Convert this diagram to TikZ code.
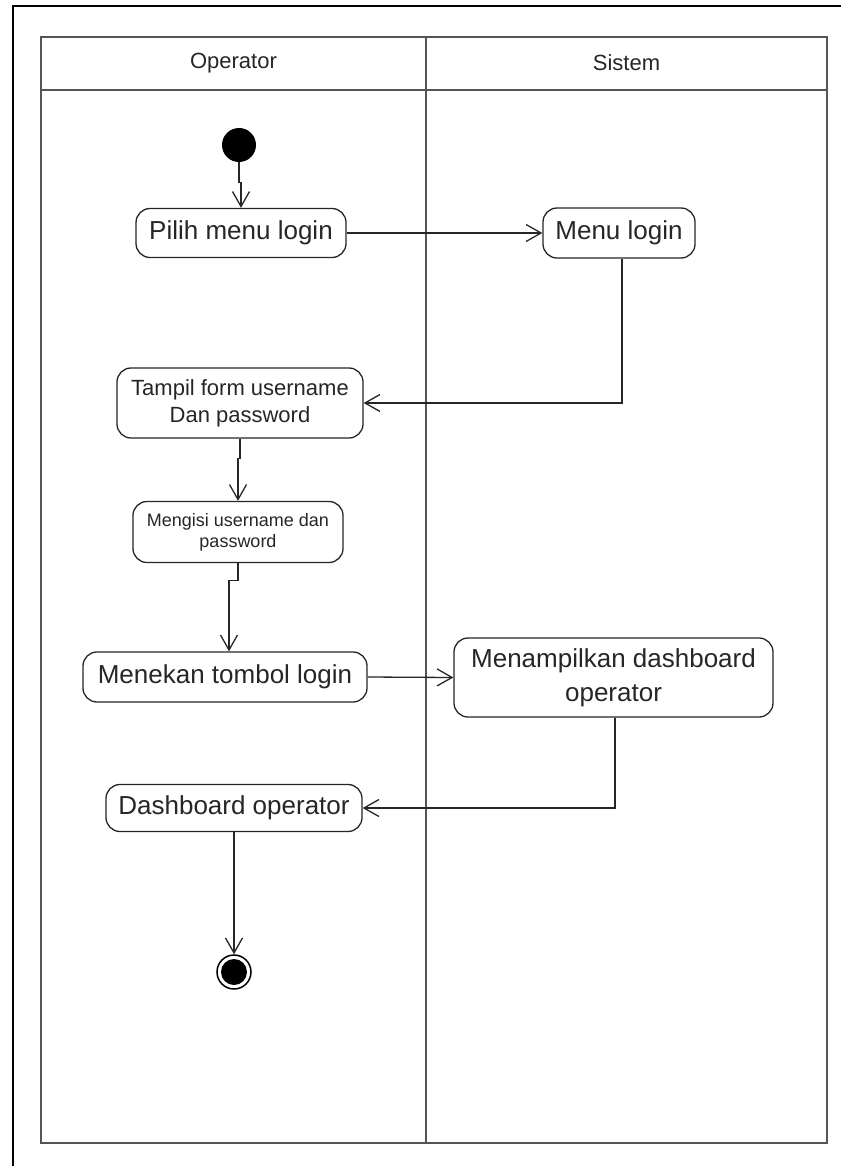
\documentclass[tikz,border=0pt]{standalone}
\usepackage{fontspec}
\setmainfont{Liberation Sans}
\usetikzlibrary{arrows.meta}
\definecolor{lane}{HTML}{555555}
\definecolor{ink}{HTML}{262626}
\begin{document}
\begin{tikzpicture}[x=1pt,y=-1pt,
  act/.style={draw=ink, line width=1.3pt, rounded corners=14pt, align=center,
    inner sep=0pt, text=ink, font=\fontsize{26}{30}\selectfont},
  flow/.style={draw=ink, line width=1.3pt,
    -{Straight Barb[length=15pt,width=17pt,line width=1.3pt]}},
  lanehead/.style={font=\fontsize{22}{26}\selectfont, text=ink},
  laneline/.style={draw=lane, line width=1.8pt}]
\useasboundingbox (0,0) rectangle (841,1166);
% page frame
\draw[line width=2pt] (13,1166) -- (13,6) -- (841,6);
% swimlanes
\draw[laneline] (41,37) rectangle (827,1143);
\draw[laneline] (41,90) -- (827,90);
\draw[laneline] (426,37) -- (426,1143);
\node[lanehead] (hop) at (233.5,63) {Operator};
\node[lanehead] (hsys) at (626.5,63) {Sistem};
% activities
\node[circle, fill=black, minimum size=34pt, inner sep=0pt] (start) at (239,145) {};
\node[act, minimum width=210pt, minimum height=49pt] (pilih) at (241,233) {Pilih menu login};
\node[act, minimum width=152pt, minimum height=50pt] (menu) at (619,233) {Menu login};
\node[act, font=\fontsize{22}{27}\selectfont, minimum width=246pt, minimum height=70pt] (tampil) at (240,403) {Tampil form username\\Dan password};
\node[act, font=\fontsize{18}{21}\selectfont, minimum width=210pt, minimum height=61pt] (mengisi) at (238,532) {Mengisi username dan\\password};
\node[act, minimum width=284pt, minimum height=50pt] (menekan) at (225,677) {Menekan tombol login};
\node[act, font=\fontsize{26}{34}\selectfont, minimum width=319pt, minimum height=79pt] (tampilkan) at (613.5,677.5) {Menampilkan dashboard\\operator};
\node[act, minimum width=256pt, minimum height=47pt] (dash) at (234,808) {Dashboard operator};
\node[circle, draw=black, line width=1.5pt, minimum size=34pt, inner sep=0pt] (end) at (234,972) {};
\fill[black] (end.center) circle (13pt);
% control flow
\draw[flow] (start.south) -- ++(0,20) -| (pilih.north);
\draw[flow] (pilih.east) -- (menu.west);
\draw[flow] ([xshift=3pt]menu.south) |- (tampil.east);
\draw[flow] (tampil.south) -- ++(0,20) -| (mengisi.north);
\draw[flow] (mengisi.south) -- ++(0,17) -| ([xshift=4pt]menekan.north);
\draw[flow] (menekan.east) -- (tampilkan.west);
\draw[flow] ([xshift=1.5pt]tampilkan.south) |- (dash.east);
\draw[flow] (dash.south) -- (end.north);
\end{tikzpicture}
\end{document}
